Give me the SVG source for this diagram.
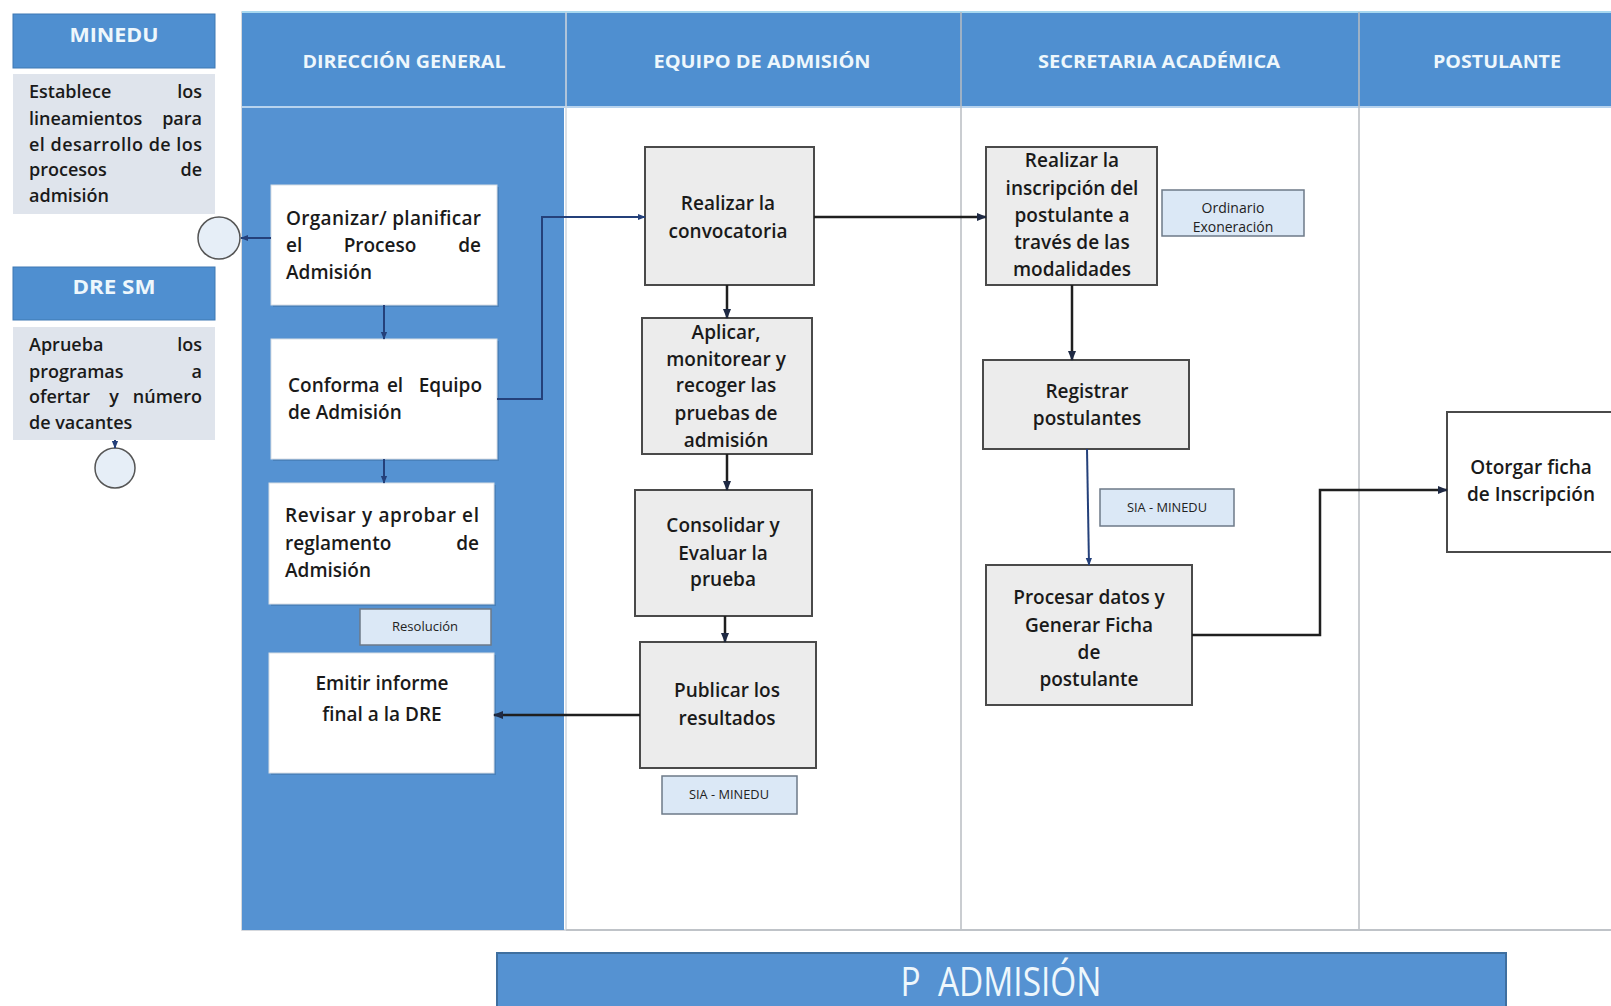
<svg xmlns="http://www.w3.org/2000/svg" width="1611" height="1006" viewBox="0 0 1611 1006">
<defs>
<style>
.t{font-family:"Open Sans",Lato,"Liberation Sans",sans-serif;font-weight:600;font-size:19px;fill:#1a1a1a}
.s{font-size:18px}
.c{text-anchor:middle}
.e{text-anchor:end}
.m{text-anchor:middle}
.hd{font-family:"Open Sans",Lato,"Liberation Sans",sans-serif;font-weight:bold;font-size:18px;fill:#eef7fc;text-anchor:middle}
.sm{font-family:"Open Sans",Lato,"Liberation Sans",sans-serif;font-size:12px;fill:#222;text-anchor:middle}
.wbox{fill:#ffffff;stroke:#d8dde4;stroke-width:1}
.shd{fill:#3f73a8;opacity:0.55}
.gbox{fill:#ececec;stroke:#4a4a4a;stroke-width:2}
.lbox{fill:#dbe8f6;stroke:#6d7a88;stroke-width:1.5}
.side{fill:#dfe4ec}
.hbar{fill:#4f8fd0}
.ln{fill:none;stroke:#1f1f1f;stroke-width:2.5}
.nv{fill:none;stroke:#24407a;stroke-width:2}
.circ{fill:#e6eef7;stroke:#555;stroke-width:1.5}
</style>
<marker id="ah" viewBox="0 0 10 10" refX="9" refY="5" markerWidth="10" markerHeight="10" markerUnits="userSpaceOnUse" orient="auto">
<path d="M0,1 L10,5 L0,9 z" fill="#1f2a44"/>
</marker>
<marker id="ahs" viewBox="0 0 10 10" refX="9" refY="5" markerWidth="8" markerHeight="8" markerUnits="userSpaceOnUse" orient="auto">
<path d="M0,1 L10,5 L0,9 z" fill="#24407a"/>
</marker>
</defs>
<rect width="1611" height="1006" fill="#ffffff"/>

<g id="lanes">
<rect x="242" y="12" width="1380" height="918" fill="#ffffff" stroke="#c8ccd2" stroke-width="1.5"/>
<rect x="242" y="12" width="322" height="918" fill="#5592d2"/>
<rect x="242" y="12" width="1380" height="95" class="hbar"/>
<line x1="242" y1="12" x2="1611" y2="12" stroke="#a8d8ef" stroke-width="2"/>
<line x1="242" y1="107" x2="1611" y2="107" stroke="#b7d3ee" stroke-width="2"/>
<line x1="566" y1="12" x2="566" y2="930" stroke="#cfd6de" stroke-width="1.5"/>
<line x1="961" y1="12" x2="961" y2="930" stroke="#b8bcc2" stroke-width="1.5"/>
<line x1="1359" y1="12" x2="1359" y2="930" stroke="#b8bcc2" stroke-width="1.5"/>
<line x1="566" y1="930" x2="1611" y2="930" stroke="#bfc3c8" stroke-width="2"/>
<text class="hd" x="404" y="68" textLength="203" lengthAdjust="spacingAndGlyphs">DIRECCIÓN GENERAL</text>
<text class="hd" x="762" y="68" textLength="217" lengthAdjust="spacingAndGlyphs">EQUIPO DE ADMISIÓN</text>
<text class="hd" x="1159" y="68" textLength="242" lengthAdjust="spacingAndGlyphs">SECRETARIA ACADÉMICA</text>
<text class="hd" x="1497" y="68" textLength="128" lengthAdjust="spacingAndGlyphs">POSTULANTE</text>
</g>

<g id="minedu">
<rect x="13" y="14" width="202" height="54" class="hbar" stroke="#3f78b3" stroke-width="1"/>
<text class="hd" x="114" y="42" style="font-size:20px" textLength="89" lengthAdjust="spacingAndGlyphs">MINEDU</text>
<rect x="13" y="74" width="202" height="140" class="side"/>
<g class="t s">
<text x="29" y="98">Establece</text><text class="e" x="202" y="98">los</text>
<text x="29" y="125">lineamientos</text><text class="e" x="202" y="125">para</text>
<text x="29" y="151" textLength="173" lengthAdjust="spacing">el desarrollo de los</text>
<text x="29" y="176">procesos</text><text class="e" x="202" y="176">de</text>
<text x="29" y="202">admisión</text>
</g>
</g>

<g id="circle1"><circle cx="219" cy="238" r="21" class="circ"/></g>

<g id="dresm">
<rect x="13" y="267" width="202" height="53" class="hbar" stroke="#3f78b3" stroke-width="1"/>
<text class="hd" x="114" y="294" style="font-size:20px" textLength="83" lengthAdjust="spacingAndGlyphs">DRE SM</text>
<rect x="13" y="327" width="202" height="113" class="side"/>
<g class="t s">
<text x="29" y="351">Aprueba</text><text class="e" x="202" y="351">los</text>
<text x="29" y="378">programas</text><text class="e" x="202" y="378">a</text>
<text x="29" y="403">ofertar</text><text class="m" x="114" y="403">y</text><text class="e" x="202" y="403">número</text>
<text x="29" y="429">de vacantes</text>
</g>
</g>

<g id="circle2"><circle cx="115" cy="468" r="20" class="circ"/></g>

<g id="organizar">
<rect x="273" y="187" width="226" height="120" class="shd"/>
<rect x="271" y="185" width="226" height="120" class="wbox"/>
<text class="t" x="286" y="225" textLength="195" lengthAdjust="spacing">Organizar/ planificar</text>
<text class="t" x="286" y="252">el</text><text class="t m" x="380" y="252">Proceso</text><text class="t e" x="481" y="252">de</text>
<text class="t" x="286" y="279">Admisión</text>
</g>

<g id="conforma">
<rect x="273" y="341" width="226" height="120" class="shd"/>
<rect x="271" y="339" width="226" height="120" class="wbox"/>
<text class="t" x="288" y="392">Conforma</text><text class="t m" x="395" y="392">el</text><text class="t e" x="482" y="392">Equipo</text>
<text class="t" x="288" y="419">de Admisión</text>
</g>

<g id="revisar">
<rect x="271" y="485" width="225" height="121" class="shd"/>
<rect x="269" y="483" width="225" height="121" class="wbox"/>
<text class="t" x="285" y="522" textLength="194" lengthAdjust="spacing">Revisar y aprobar el</text>
<text class="t" x="285" y="550">reglamento</text><text class="t e" x="479" y="550">de</text>
<text class="t" x="285" y="577">Admisión</text>
</g>

<g id="resolucion">
<rect x="360" y="609" width="131" height="36" class="lbox"/>
<text class="sm" x="425" y="631" textLength="66" lengthAdjust="spacingAndGlyphs">Resolución</text>
</g>

<g id="emitir">
<rect x="271" y="655" width="225" height="120" class="shd"/>
<rect x="269" y="653" width="225" height="120" class="wbox"/>
<text class="t c" x="382" y="690">Emitir informe</text>
<text class="t c" x="382" y="721">final a la DRE</text>
</g>

<g id="convocatoria">
<rect x="645" y="147" width="169" height="138" class="gbox"/>
<text class="t c" x="728" y="210">Realizar la</text>
<text class="t c" x="728" y="238">convocatoria</text>
</g>

<g id="aplicar">
<rect x="642" y="318" width="170" height="136" class="gbox"/>
<text class="t c" x="726" y="339">Aplicar,</text>
<text class="t c" x="726" y="366">monitorear y</text>
<text class="t c" x="726" y="392">recoger las</text>
<text class="t c" x="726" y="420">pruebas de</text>
<text class="t c" x="726" y="447">admisión</text>
</g>

<g id="consolidar">
<rect x="635" y="490" width="177" height="126" class="gbox"/>
<text class="t c" x="723" y="532">Consolidar y</text>
<text class="t c" x="723" y="560">Evaluar la</text>
<text class="t c" x="723" y="586">prueba</text>
</g>

<g id="publicar">
<rect x="640" y="642" width="176" height="126" class="gbox"/>
<text class="t c" x="727" y="697">Publicar los</text>
<text class="t c" x="727" y="725">resultados</text>
</g>

<g id="sia1">
<rect x="662" y="776" width="135" height="38" class="lbox"/>
<text class="sm" x="729" y="799" textLength="80" lengthAdjust="spacingAndGlyphs">SIA - MINEDU</text>
</g>

<g id="inscripcion">
<rect x="986" y="147" width="171" height="138" class="gbox"/>
<text class="t c" x="1072" y="167">Realizar la</text>
<text class="t c" x="1072" y="195">inscripción del</text>
<text class="t c" x="1072" y="222">postulante a</text>
<text class="t c" x="1072" y="249">través de las</text>
<text class="t c" x="1072" y="276">modalidades</text>
</g>

<g id="ordinario">
<rect x="1162" y="190" width="142" height="46" class="lbox"/>
<text class="sm" x="1233" y="213" style="font-size:14px">Ordinario</text>
<text class="sm" x="1233" y="232" style="font-size:14px">Exoneración</text>
</g>

<g id="registrar">
<rect x="983" y="360" width="206" height="89" class="gbox"/>
<text class="t c" x="1087" y="398">Registrar</text>
<text class="t c" x="1087" y="425">postulantes</text>
</g>

<g id="sia2">
<rect x="1100" y="489" width="134" height="37" class="lbox"/>
<text class="sm" x="1167" y="512" textLength="80" lengthAdjust="spacingAndGlyphs">SIA - MINEDU</text>
</g>

<g id="procesar">
<rect x="986" y="565" width="206" height="140" class="gbox"/>
<text class="t c" x="1089" y="604">Procesar datos y</text>
<text class="t c" x="1089" y="632">Generar Ficha</text>
<text class="t c" x="1089" y="659">de</text>
<text class="t c" x="1089" y="686">postulante</text>
</g>

<g id="otorgar">
<rect x="1447" y="412" width="180" height="140" fill="#ffffff" stroke="#4a4a4a" stroke-width="2"/>
<text class="t c" x="1531" y="474">Otorgar ficha</text>
<text class="t c" x="1531" y="501">de Inscripción</text>
</g>

<g id="connectors">
<line x1="271" y1="238" x2="241" y2="238" class="nv" marker-end="url(#ahs)"/>
<line x1="115" y1="440" x2="115" y2="448" class="nv" marker-end="url(#ahs)"/>
<line x1="384" y1="305" x2="384" y2="339" class="nv" marker-end="url(#ahs)"/>
<line x1="384" y1="459" x2="384" y2="483" class="nv" marker-end="url(#ahs)"/>
<polyline points="497,399 542,399 542,217 645,217" class="nv" marker-end="url(#ahs)"/>
<line x1="814" y1="217" x2="986" y2="217" class="ln" marker-end="url(#ah)"/>
<line x1="727" y1="285" x2="727" y2="318" class="ln" marker-end="url(#ah)"/>
<line x1="727" y1="454" x2="727" y2="490" class="ln" marker-end="url(#ah)"/>
<line x1="725" y1="616" x2="725" y2="642" class="ln" marker-end="url(#ah)"/>
<line x1="640" y1="715" x2="494" y2="715" class="ln" marker-end="url(#ah)"/>
<line x1="1072" y1="285" x2="1072" y2="360" class="ln" marker-end="url(#ah)"/>
<line x1="1087" y1="449" x2="1089" y2="565" class="nv" marker-end="url(#ahs)"/>
<polyline points="1192,635 1320,635 1320,490 1447,490" class="ln" marker-end="url(#ah)"/>
</g>

<g id="title">
<rect x="497" y="953" width="1009" height="60" fill="#5592d2" stroke="#3f6f9f" stroke-width="2"/>
<text x="1001" y="996" xml:space="preserve" textLength="201" lengthAdjust="spacingAndGlyphs" style="font-family:'Open Sans',Lato,'Liberation Sans',sans-serif;font-size:40px;fill:#eef7fc;text-anchor:middle">P  ADMISIÓN</text>
</g>
</svg>
